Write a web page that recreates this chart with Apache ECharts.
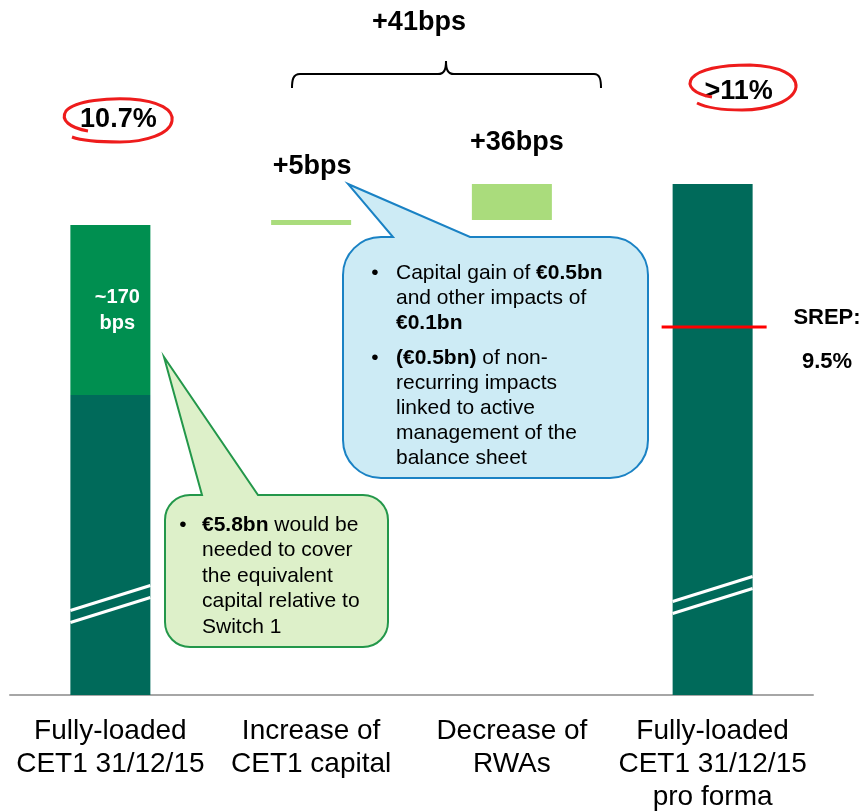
<!DOCTYPE html>
<html>
<head>
<meta charset="utf-8">
<script src="https://cdn.jsdelivr.net/npm/echarts@6/dist/echarts.min.js"></script>
<style>
html,body{margin:0;padding:0;background:#fff;}
#chart{width:866px;height:811px;}
</style>
</head>
<body>
<div id="chart"></div>
<script>
// ---- data (CET1 ratio, %) ----
const categories = ['Fully-loaded\nCET1 31/12/15', 'Increase of\nCET1 capital', 'Decrease of\nRWAs', 'Fully-loaded\nCET1 31/12/15\npro forma'];
const baseValues  = [0, 10.70, 10.75, 0];      // invisible waterfall offsets
const darkValues  = [9.00, 0, 0, 11.11];       // dark green CET1 part
const midValues   = [1.70, 0, 0, 0];           // ~170 bps segment
const deltaValues = [0, 0.05, 0.36, 0];        // +5bps, +36bps
const topLabels   = ['10.7%', '+5bps', '+36bps', '>11%'];
const midLabel    = '~170\nbps';
const totalLabel  = '+41bps';
const srepLevel   = [[3, 9.68]];               // SREP line position as drawn
const srepText    = ['SREP:', '9.5%'];
const axisBreaks  = [[0, 6.91], [3, 7.0]];      // broken-axis marks

const FONT = "'Liberation Sans', Arial, sans-serif";
const C_DARK = '#006a5a', C_MID = '#008f50', C_LIGHT = '#aadc7c';

const chart = echarts.init(document.getElementById('chart'), null, {renderer: 'canvas'});

const topDist = [92, 40, 28, 79];
const topOff = [[8, 0], [1, 0], [5, 0], [26, 0]];

const decorPaths = [
  // brace
  {d: 'M292,88 C292,80 293,74 300,74 L438,74 C444,74 446,70 446,61 C446,70 448,74 454,74 L594,74 C600,74 601,80 601,88', style: {stroke: '#000', lineWidth: 2, fill: null}},
  // red hand-drawn ellipses
  {d: 'M88,131 C70,128 60,120 66,111 C76,100 110,98 130,99 C160,101 174,110 172,121 C170,134 145,142 120,142 C100,142 80,140 72,137', style: {stroke: '#ee1c1c', lineWidth: 3, fill: null}},
  {d: 'M712,97 C694,94 686,86 692,78 C702,67 730,65 750,65 C780,66 797,75 796,87 C794,101 768,110 742,110 C722,110 705,107 697,103', style: {stroke: '#ee1c1c', lineWidth: 3, fill: null}},
  // blue callout
  {d: 'M381,237 L393,237 L348,184 L470,237 L610,237 C631,237 648,254 648,275 L648,440 C648,461 631,478 610,478 L381,478 C360,478 343,461 343,440 L343,275 C343,254 360,237 381,237 Z', style: {fill: '#cdebf5', stroke: '#1a82c4', lineWidth: 2}},
  // green callout
  {d: 'M190,495 L202,495 L164,357 L258,495 L363,495 C377,495 388,506 388,520 L388,622 C388,636 377,647 363,647 L190,647 C176,647 165,636 165,622 L165,520 C165,506 176,495 190,495 Z', style: {fill: '#ddf0c9', stroke: '#23974a', lineWidth: 2}}
];

const richB = {b: {fontWeight: 'bold', fontFamily: FONT, fontSize: 21}};

const option = {
  animation: false,
  backgroundColor: '#fff',
  grid: {left: 10, right: 53, top: 95, bottom: 116, containLabel: false, outerBoundsMode: 'none'},
  xAxis: {
    type: 'category',
    data: categories,
    axisLine: {show: true, lineStyle: {color: '#a6a6a6', width: 2}},
    axisTick: {show: false},
    axisLabel: {interval: 0, color: '#000', fontFamily: FONT, fontSize: 28, lineHeight: 33, margin: 20}
  },
  yAxis: {type: 'value', min: 6, max: 12, show: false, splitLine: {show: false}},
  series: [
    {type: 'bar', stack: 'w', barWidth: 80, data: baseValues, itemStyle: {color: 'transparent'}, silent: true},
    {type: 'bar', stack: 'w', barWidth: 80, data: darkValues, itemStyle: {color: C_DARK}},
    {type: 'bar', stack: 'w', barWidth: 80, data: midValues, itemStyle: {color: C_MID},
      label: {show: true, position: 'inside', offset: [7, 0], formatter: (p) => p.value > 0 ? midLabel : '',
        color: '#fff', fontFamily: FONT, fontWeight: 'bold', fontSize: 20, lineHeight: 26}},
    {type: 'bar', stack: 'w', barWidth: 80, itemStyle: {color: C_LIGHT},
      data: deltaValues.map((v, i) => ({value: v, label: {distance: topDist[i], offset: topOff[i]}})),
      label: {show: true, position: 'top', formatter: (p) => topLabels[p.dataIndex],
        color: '#000', fontFamily: FONT, fontWeight: 'bold', fontSize: 27}},
    {type: 'custom', z: 5, clip: false, data: axisBreaks, encode: {x: 0, y: 1},
      renderItem: function (params, api) {
        const p = api.coord([api.value(0), api.value(1)]);
        const x = p[0], y = p[1];
        const mk = (dy) => ({type: 'line', shape: {x1: x - 40, y1: y + dy + 12.5, x2: x + 40, y2: y + dy - 12.5},
          style: {stroke: '#fff', lineWidth: 3}});
        return {type: 'group', children: [mk(-6), mk(6)]};
      }},
    {type: 'custom', z: 5, clip: false, data: srepLevel, encode: {x: 0, y: 1},
      renderItem: function (params, api) {
        const p = api.coord([api.value(0), api.value(1)]);
        return {type: 'line', shape: {x1: p[0] - 51, y1: p[1], x2: p[0] + 54, y2: p[1]},
          style: {stroke: '#ff0000', lineWidth: 3}};
      }},
    {type: 'custom', z: 8, clip: false, silent: true, data: [[0, 6]], encode: {x: 0, y: 1},
      renderItem: function () {
        return {type: 'group', children: decorPaths.map((o) => ({type: 'path', shape: {pathData: o.d}, style: o.style}))};
      }}
  ],
  graphic: [
    {type: 'text', z: 100, style: {text: totalLabel, x: 419, y: 23, align: 'center', verticalAlign: 'middle',
      fontFamily: FONT, fontWeight: 'bold', fontSize: 27, fill: '#000'}},
    {type: 'text', z: 100, style: {text: srepText[0], x: 827, y: 318, align: 'center', verticalAlign: 'middle',
      fontFamily: FONT, fontWeight: 'bold', fontSize: 22, fill: '#000'}},
    {type: 'text', z: 100, style: {text: srepText[1], x: 827, y: 362, align: 'center', verticalAlign: 'middle',
      fontFamily: FONT, fontWeight: 'bold', fontSize: 22, fill: '#000'}},
    {type: 'text', z: 100, style: {text: '•', x: 375, y: 273, align: 'center', verticalAlign: 'middle', fontFamily: FONT, fontSize: 21, fill: '#000'}},
    {type: 'text', z: 100, style: {text: '•', x: 375, y: 358, align: 'center', verticalAlign: 'middle', fontFamily: FONT, fontSize: 21, fill: '#000'}},
    {type: 'text', z: 100, style: {text: 'Capital gain of {b|€0.5bn}\nand other impacts of\n{b|€0.1bn}', x: 396, y: 260.5,
      fontFamily: FONT, fontSize: 21, lineHeight: 25, fill: '#000', rich: {b: Object.assign({lineHeight: 25}, richB.b)}}},
    {type: 'text', z: 100, style: {text: '{b|(€0.5bn)} of non-\nrecurring impacts\nlinked to active\nmanagement of the\nbalance sheet', x: 396, y: 345.5,
      fontFamily: FONT, fontSize: 21, lineHeight: 25, fill: '#000', rich: {b: Object.assign({lineHeight: 25}, richB.b)}}},
    {type: 'text', z: 100, style: {text: '•', x: 183, y: 525, align: 'center', verticalAlign: 'middle', fontFamily: FONT, fontSize: 21, fill: '#000'}},
    {type: 'text', z: 100, style: {text: '{b|€5.8bn} would be\nneeded to cover\nthe equivalent\ncapital relative to\nSwitch 1', x: 202, y: 512,
      fontFamily: FONT, fontSize: 21, lineHeight: 25.5, fill: '#000', rich: {b: Object.assign({lineHeight: 25.5}, richB.b)}}}
  ]
};
chart.setOption(option);
</script>
</body>
</html>
